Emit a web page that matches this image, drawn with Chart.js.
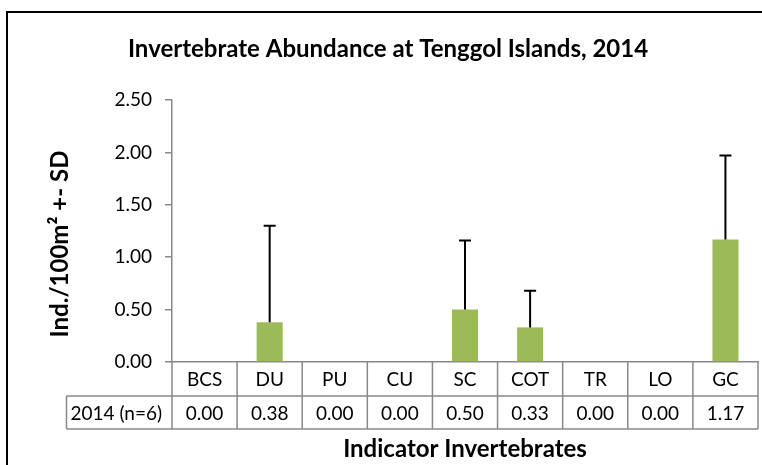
<!DOCTYPE html>
<html>
<head>
<meta charset="utf-8">
<script src="https://cdn.jsdelivr.net/npm/chart.js@4"></script>
<style>
  html, body { margin: 0; padding: 0; width: 762px; height: 465px; overflow: hidden; background: #fff; }
  #frame { position: absolute; left: 6px; top: 11px; width: 800px; height: 500px; border: 2px solid #000; box-sizing: border-box; }
  #wrap { position: absolute; left: 0; top: 0; width: 762px; height: 465px; }
</style>
</head>
<body>
<div id="frame"></div>
<div id="wrap"><canvas id="chart"></canvas></div>
<script>
const categories = ['BCS', 'DU', 'PU', 'CU', 'SC', 'COT', 'TR', 'LO', 'GC'];
const abundance = [0.00, 0.38, 0.00, 0.00, 0.50, 0.33, 0.00, 0.00, 1.17];
const sd = [0, 0.92, 0, 0, 0.66, 0.35, 0, 0, 0.80];
const seriesLabel = '2014 (n=6)';
const yMax = 2.5;
const yStep = 0.5;
const yTitle = 'Ind./100m² +- SD';

const FONT = 'Lato, "Open Sans", sans-serif';
const GRAY = '#898989';

// upper SD whiskers on top of the bars
const errorBars = {
  id: 'errorBars',
  afterDatasetsDraw(chart) {
    const ctx = chart.ctx;
    const y = chart.scales.y;
    const meta = chart.getDatasetMeta(0);
    ctx.save();
    ctx.strokeStyle = '#000';
    ctx.lineWidth = 2;
    meta.data.forEach((bar, i) => {
      if (!sd[i]) return;
      const top = y.getPixelForValue(abundance[i] + sd[i]);
      ctx.beginPath();
      ctx.moveTo(bar.x, bar.y);
      ctx.lineTo(bar.x, top);
      ctx.moveTo(bar.x - 6, top);
      ctx.lineTo(bar.x + 6, top);
      ctx.stroke();
    });
    ctx.restore();
  }
};

// Excel style data table under the x axis, plus the y title
const dataTable = {
  id: 'dataTable',
  afterDraw(chart) {
    const ctx = chart.ctx;
    const xs = chart.scales.x;
    const area = chart.chartArea;
    const step = (xs.right - xs.left) / categories.length;
    const top = area.bottom;
    const mid = top + 34;
    const bot = mid + 33;
    const headLeft = 66.5;

    ctx.save();
    ctx.strokeStyle = GRAY;
    ctx.lineWidth = 1.5;
    ctx.beginPath();
    ctx.moveTo(headLeft, mid); ctx.lineTo(xs.right, mid);
    ctx.moveTo(headLeft, bot); ctx.lineTo(xs.right, bot);
    ctx.moveTo(headLeft, mid); ctx.lineTo(headLeft, bot);
    for (let k = 0; k <= categories.length; k++) {
      const x = xs.left + k * step;
      ctx.moveTo(x, top); ctx.lineTo(x, bot);
    }
    ctx.stroke();

    ctx.fillStyle = '#000';
    ctx.font = '19px ' + FONT;
    ctx.textBaseline = 'middle';
    ctx.textAlign = 'center';
    categories.forEach((c, i) => {
      const x = xs.getPixelForValue(i);
      ctx.fillText(c, x, (top + mid) / 2 + 1);
      ctx.fillText(abundance[i].toFixed(2), x, (mid + bot) / 2 + 1);
    });
    ctx.textAlign = 'left';
    ctx.fillText(seriesLabel, headLeft + 4, (mid + bot) / 2 + 1);

    ctx.translate(60, 244);
    ctx.rotate(-Math.PI / 2);
    ctx.textAlign = 'center';
    ctx.font = 'bold 24px ' + FONT;
    ctx.fillText(yTitle, 0, 0);
    ctx.restore();
  }
};

new Chart(document.getElementById('chart'), {
  type: 'bar',
  data: {
    labels: categories,
    datasets: [{
      label: seriesLabel,
      data: abundance,
      backgroundColor: '#9BBB59',
      categoryPercentage: 1,
      barPercentage: 0.4
    }]
  },
  options: {
    responsive: true,
    maintainAspectRatio: false,
    animation: false,
    layout: { padding: { left: 18, right: 4, top: 0, bottom: 0 } },
    plugins: {
      legend: { display: false },
      tooltip: { enabled: false },
      title: {
        display: true,
        text: 'Invertebrate Abundance at Tenggol Islands, 2014',
        color: '#000',
        font: { family: FONT, size: 24, weight: 'bold', lineHeight: 1.2 },
        padding: { top: 34.6, bottom: 36.6 }
      }
    },
    scales: {
      x: {
        grid: { display: false },
        border: { color: GRAY, width: 1.5 },
        ticks: { display: false },
        title: {
          display: true,
          text: 'Indicator Invertebrates',
          color: '#000',
          font: { family: FONT, size: 24, weight: 'bold', lineHeight: 1.2 },
          padding: { top: 0, bottom: 1 }
        },
        afterFit(scale) { scale.height = 103; }
      },
      y: {
        min: 0,
        max: yMax,
        grid: { drawOnChartArea: false, tickLength: 7, color: GRAY, lineWidth: 1.5 },
        border: { color: GRAY, width: 1.5 },
        ticks: {
          stepSize: yStep,
          padding: 13,
          color: '#000',
          font: { family: FONT, size: 19 },
          callback: v => v.toFixed(2)
        },
        afterFit(scale) { scale.width = 154; }
      }
    }
  },
  plugins: [errorBars, dataTable]
});
</script>
</body>
</html>
